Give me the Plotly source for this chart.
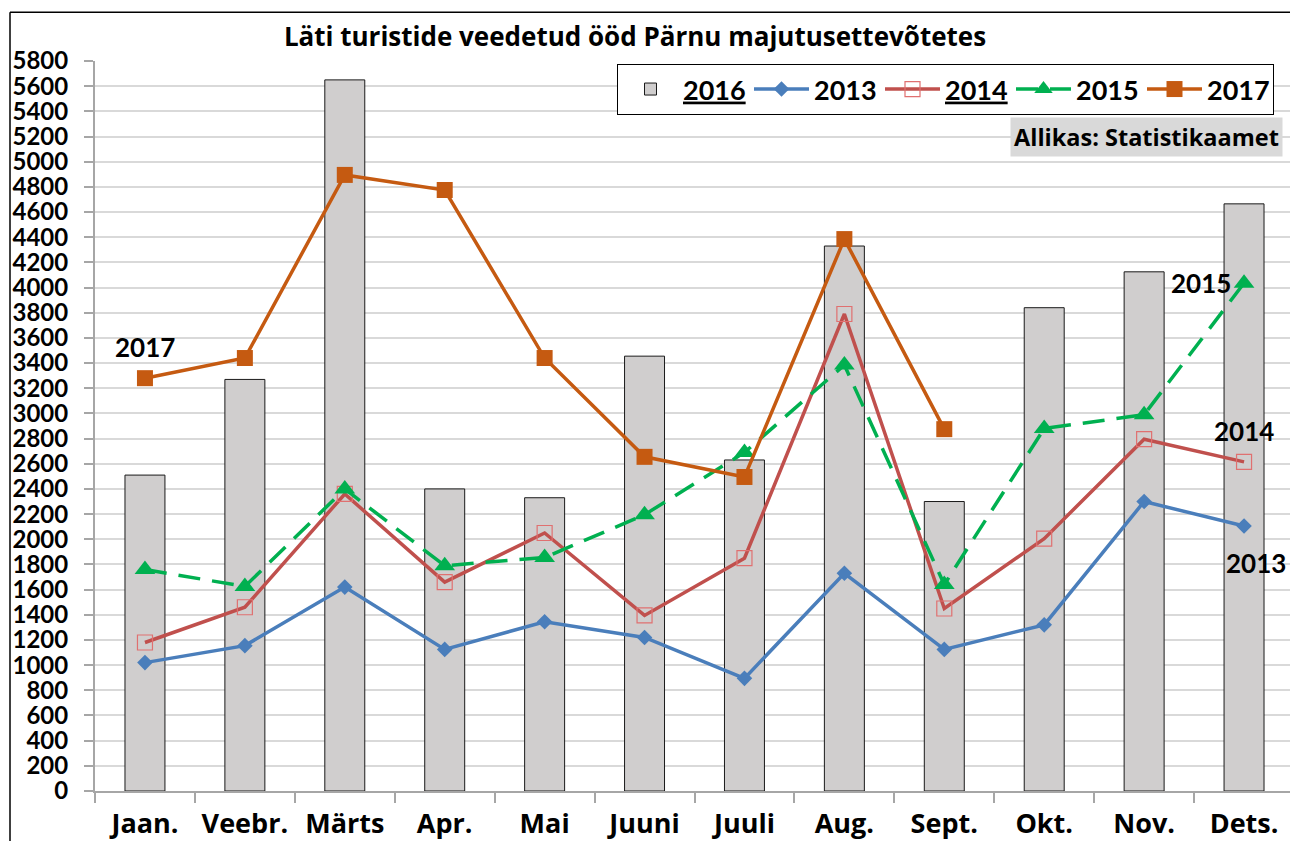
import plotly.graph_objects as go

months = ["Jaan.", "Veebr.", "Märts", "Apr.", "Mai", "Juuni", "Juuli", "Aug.", "Sept.", "Okt.", "Nov.", "Dets."]
y2016 = [2510, 3270, 5650, 2400, 2330, 3455, 2630, 4330, 2300, 3840, 4125, 4665]
y2013 = [1020, 1155, 1620, 1125, 1345, 1220, 895, 1730, 1125, 1320, 2300, 2105]
y2014 = [1180, 1460, 2360, 1660, 2050, 1395, 1850, 3790, 1450, 2005, 2795, 2615]
y2015 = [1760, 1625, 2400, 1790, 1855, 2195, 2690, 3385, 1640, 2880, 2990, 4035]
y2017 = [3280, 3440, 4895, 4775, 3440, 2655, 2495, 4385, 2875, None, None, None]

yticks = list(range(0, 5801, 200))

NUMFONT = "Lato"
TXTFONT = "Open Sans"
xs = list(range(len(months)))

fig = go.Figure()
fig.add_trace(go.Bar(
    x=xs, y=y2016, name="<u>2016</u>", width=0.4,
    marker=dict(color="#d0cece", line=dict(color="#1a1a1a", width=1)),
))
fig.add_trace(go.Scatter(
    x=xs, y=y2013, name="2013", mode="lines+markers",
    line=dict(color="#4a7ebb", width=3.5),
    marker=dict(symbol="diamond", size=12, color="#4a7ebb"),
))
fig.add_trace(go.Scatter(
    x=xs, y=y2014, name="<u>2014</u>", mode="lines+markers",
    line=dict(color="#c0504d", width=3.5),
    marker=dict(symbol="square-open", size=15, color="#e07070", line=dict(width=1.2)),
))
fig.add_trace(go.Scatter(
    x=xs, y=y2015, name="2015", mode="lines+markers",
    line=dict(color="#00b050", width=3.5, dash="22px,12px"),
    marker=dict(symbol="triangle-up", size=18, color="#00b050"),
))
fig.add_trace(go.Scatter(
    x=xs, y=y2017, name="2017", mode="lines+markers",
    line=dict(color="#c55a11", width=3.5),
    marker=dict(symbol="square", size=16, color="#c55a11"),
))

L, T, B = 95, 61, 48
PW, PH = 1290 - L, 841 - T - B

def px(xp):
    return (xp - L) / PW

def py(yp):
    return (841 - B - yp) / PH

fig.update_layout(
    width=1290, height=841,
    margin=dict(l=L, r=0, t=T, b=B),
    paper_bgcolor="white", plot_bgcolor="white",
    font=dict(family=NUMFONT, color="black"),
    title=dict(text="<b>Läti turistide veedetud ööd Pärnu majutusettevõtetes</b>",
               x=635 / 1290, xanchor="center", y=1 - 37 / 841, yanchor="middle",
               font=dict(size=26, family=TXTFONT, color="black")),
    showlegend=True,
    legend=dict(orientation="h", x=px(617), xanchor="left", y=py(64), yanchor="top",
                bgcolor="white", bordercolor="black", borderwidth=1,
                font=dict(size=27, family=NUMFONT, color="black", weight="bold"),
                traceorder="normal", itemwidth=55, entrywidth=61),
    bargap=0.6,
)

fig.update_xaxes(
    range=[-0.5, 11.46], tickmode="array", tickvals=xs, ticktext=["<b>%s</b>" % m for m in months],
    ticks="", showgrid=False, zeroline=False,
    showline=True, linecolor="#a6a6a6", linewidth=2,
    tickfont=dict(size=27, family=TXTFONT, color="black"),
    ticklabelstandoff=8,
    minor=dict(tickmode="array", tickvals=[i - 0.5 for i in range(13)], ticks="outside",
               ticklen=10, tickcolor="#a6a6a6", tickwidth=2, showgrid=False),
)
fig.update_yaxes(
    range=[0, 5800], tickmode="array", tickvals=yticks, ticktext=["<b>%d</b>" % v for v in yticks],
    showgrid=True, gridcolor="#d9d9d9", gridwidth=2, zeroline=False,
    showline=True, linecolor="#a6a6a6", linewidth=2,
    ticks="outside", ticklen=9, tickcolor="#a6a6a6", tickwidth=2,
    tickfont=dict(size=24, family=NUMFONT, color="black"),
    ticklabelstandoff=11,
)

# outer chart border (top and left)
fig.add_shape(type="line", xref="paper", yref="paper", x0=px(10), x1=px(1300), y0=py(12), y1=py(12),
              line=dict(color="black", width=1.5))
fig.add_shape(type="line", xref="paper", yref="paper", x0=px(10), x1=px(10), y0=py(12), y1=py(900),
              line=dict(color="black", width=1.5))

fig.add_annotation(xref="paper", yref="paper", x=px(1283), y=py(137), xanchor="right", yanchor="middle",
                   text="<b>Allikas: Statistikaamet</b>", showarrow=False, bgcolor="#d9d9d9",
                   borderpad=3, font=dict(size=23.5, family=TXTFONT, color="black"))

labels = [("2017", 0.0, 3525), ("2015", 10.57, 4040), ("2014", 11.0, 2860), ("2013", 11.12, 1815)]
for t, xv, yv in labels:
    fig.add_annotation(x=xv, y=yv, text="<b>%s</b>" % t, showarrow=False,
                       font=dict(size=26, family=NUMFONT, color="black"))

fig.write_html("out.html", config={"displayModeBar": False},
               post_script="document.body.style.margin='0';document.body.style.overflow='hidden';"
                           "document.documentElement.style.overflow='hidden';")
